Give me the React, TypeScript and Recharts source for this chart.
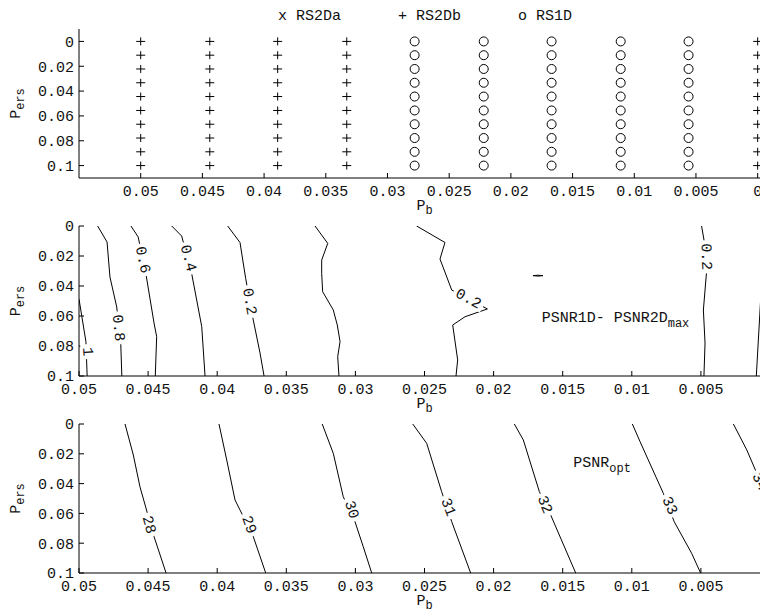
import React from "react";
import { ScatterChart, Scatter, XAxis, YAxis } from "recharts";

type Pair = [number, number];

const FONT = "'Liberation Mono', 'Courier New', monospace";

// ---- top panel: winning scheme on the (Pb, Pers) grid
const PB_GRID = [0.05, 0.0444, 0.0389, 0.0333, 0.0278, 0.0222, 0.0167, 0.0111, 0.0056, 0];
const PERS_GRID = [0, 0.0111, 0.0222, 0.0333, 0.0444, 0.0556, 0.0667, 0.0778, 0.0889, 0.1];
// best scheme per Pb column (same for every Pers row)
const BEST_SCHEME = ["RS2Db", "RS2Db", "RS2Db", "RS2Db", "RS1D", "RS1D", "RS1D", "RS1D", "RS1D", "RS2Db"];
const SCHEMES = [
  { name: "RS2Da", mark: "x" },
  { name: "RS2Db", mark: "+" },
  { name: "RS1D", mark: "o" },
];

const PB_TICKS = [0.05, 0.045, 0.04, 0.035, 0.03, 0.025, 0.02, 0.015, 0.01, 0.005, 0];
const PERS_TICKS = [0, 0.02, 0.04, 0.06, 0.08, 0.1];

// ---- middle panel: PSNR1D - PSNR2Dmax contours, [Pb, Pers]
const DIFF_1: Pair[] = [[0.05, 0.0487], [0.0495, 0.077], [0.04941, 0.1]];
const DIFF_08: Pair[] = [[0.04865, 0], [0.04797, 0.0107], [0.04776, 0.034], [0.04727, 0.054], [0.04698, 0.078], [0.0469, 0.1]];
const DIFF_06: Pair[] = [[0.04624, 0], [0.04572, 0.0073], [0.04517, 0.0313], [0.04457, 0.0647], [0.04438, 0.0738], [0.04448, 0.1]];
const DIFF_04: Pair[] = [[0.04329, 0], [0.04257, 0.0067], [0.04185, 0.0316], [0.04112, 0.067], [0.04088, 0.1]];
const DIFF_02A: Pair[] = [[0.03924, 0], [0.03835, 0.011], [0.03794, 0.0349], [0.03739, 0.0627], [0.0369, 0.0847], [0.03661, 0.1]];
const DIFF_0: Pair[] = [[0.03292, 0], [0.032, 0.0116], [0.03244, 0.0227], [0.03244, 0.0316], [0.03237, 0.0438], [0.0316, 0.056], [0.03131, 0.066], [0.03111, 0.0771], [0.03128, 0.0871], [0.03119, 0.1]];
const DIFF_02B: Pair[] = [[0.02557, 0], [0.02352, 0.011], [0.02388, 0.022], [0.02303, 0.0427], [0.02045, 0.0553], [0.02207, 0.0605], [0.02296, 0.066], [0.0226, 0.0893], [0.02272, 0.1]];
const DIFF_ISLAND: Pair[] = [[0.01715, 0.0331], [0.01679, 0.0328], [0.01643, 0.0331], [0.01679, 0.0334], [0.01715, 0.0331]];
const DIFF_02C: Pair[] = [[0.00495, 0], [0.00475, 0.0107], [0.0046, 0.0316], [0.00482, 0.056], [0.0047, 0.078], [0.00478, 0.1]];
const DIFF_0R: Pair[] = [[0.00022, 0], [0.0005, 0.0193], [0.00074, 0.0593], [0.00099, 0.1]];

const DIFF_LABELS = [
  { text: "1", pb: 0.04944, pers: 0.0838 },
  { text: "0.8", pb: 0.04721, pers: 0.068 },
  { text: "0.6", pb: 0.04545, pers: 0.0227 },
  { text: "0.4", pb: 0.04215, pers: 0.0216 },
  { text: "0.2", pb: 0.03772, pers: 0.0505 },
  { text: "0.2", pb: 0.02185, pers: 0.049 },
  { text: "0.2", pb: 0.00467, pers: 0.0205 },
];
const DIFF_LABEL_TILT = [86, 84, 78, 75, 80, 28, 88];

// ---- bottom panel: PSNRopt contours
const OPT_28: Pair[] = [[0.04667, 0], [0.04607, 0.0208], [0.04559, 0.0421], [0.04457, 0.0756], [0.0437, 0.1]];
const OPT_29: Pair[] = [[0.03987, 0], [0.03931, 0.0242], [0.03871, 0.051], [0.03739, 0.0756], [0.03649, 0.1]];
const OPT_30: Pair[] = [[0.0324, 0], [0.0316, 0.0197], [0.03088, 0.0488], [0.03003, 0.0656], [0.02943, 0.0824], [0.02882, 0.1]];
const OPT_31: Pair[] = [[0.02585, 0], [0.02484, 0.013], [0.02376, 0.0454], [0.02303, 0.0656], [0.02166, 0.1]];
const OPT_32: Pair[] = [[0.0185, 0], [0.01785, 0.0107], [0.01669, 0.0454], [0.01592, 0.06], [0.01406, 0.1]];
const OPT_33: Pair[] = [[0.00996, 0], [0.0094, 0.0119], [0.00772, 0.0465], [0.00693, 0.0656], [0.00567, 0.0868], [0.00502, 0.1]];
const OPT_34: Pair[] = [[0.00265, 0], [0.00168, 0.0174], [0.00023, 0.0488], [0, 0.051]];

const OPT_LABELS = [
  { text: "28", pb: 0.04499, pers: 0.0678 },
  { text: "29", pb: 0.03775, pers: 0.0678 },
  { text: "30", pb: 0.03033, pers: 0.0577 },
  { text: "31", pb: 0.02333, pers: 0.056 },
  { text: "32", pb: 0.01635, pers: 0.0544 },
  { text: "33", pb: 0.00731, pers: 0.055 },
  { text: "34", pb: 0.00079, pers: 0.039 },
];
const OPT_LABEL_TILT = [74, 70, 72, 69, 68, 65, 65];

const DIFF_NOTE = [{ pb: 0.01652, pers: 0.0637, main: "PSNR1D- PSNR2D", sub: "max" }];
const OPT_NOTE = [{ pb: 0.01423, pers: 0.0287, main: "PSNR", sub: "opt" }];

const toPts = (c: Pair[]) => c.map(([pb, pers]) => ({ pb, pers }));

const INK = "#000";
const LINE = { stroke: INK, strokeWidth: 1 };
const TICK = { fill: "#111", fontSize: 15, fontFamily: FONT };
const fmt = (v: number) => String(v);

const none = () => <g />;

const plus = (p: any) => (
  <path d={`M${p.cx - 4.5},${p.cy}h9M${p.cx},${p.cy - 4}v8`} stroke={INK} strokeWidth={1} fill="none" />
);
const ring = (p: any) => <circle cx={p.cx} cy={p.cy} r={4.5} stroke={INK} strokeWidth={1} fill="none" />;

const contourLabel = (p: any) => {
  const { cx, cy, payload } = p;
  const w = payload.text.length * 9 + 6;
  return (
    <g transform={`translate(${cx},${cy}) rotate(${payload.tilt})`}>
      <rect x={-w / 2} y={-6} width={w} height={12} fill="#fff" />
      <text x={0} y={0} textAnchor="middle" dominantBaseline="central" fontFamily={FONT} fontSize={15} fill="#111">
        {payload.text}
      </text>
    </g>
  );
};

const note = (p: any) => (
  <text x={p.cx} y={p.cy} fontFamily={FONT} fontSize={15} fill="#111">
    {p.payload.main}
    <tspan dy={5} fontSize={12}>{p.payload.sub}</tspan>
  </text>
);

const xLabel = (p: any) => {
  const vb = p.viewBox || { x: 0, y: 0, width: 0 };
  return (
    <text x={vb.x + vb.width / 2} y={vb.y + 32} textAnchor="middle" fontFamily={FONT} fontSize={15} fill="#111">
      P<tspan dy={4} fontSize={12}>b</tspan>
    </text>
  );
};

const yLabel = (p: any) => {
  const vb = p.viewBox || { x: 0, y: 0, height: 0 };
  const cx = vb.x + 12;
  const cy = vb.y + vb.height / 2;
  return (
    <text transform={`translate(${cx},${cy}) rotate(-90)`} textAnchor="middle" fontFamily={FONT} fontSize={15} fill="#111">
      P<tspan dy={4} fontSize={12}>ers</tspan>
    </text>
  );
};

type PanelProps = {
  top: number;
  height: number;
  marginTop: number;
  xDomain: [number, number];
  yDomain: [number, number];
  children: React.ReactNode;
};

function Panel({ top, height, marginTop, xDomain, yDomain, children }: PanelProps) {
  return (
    <div style={{ position: "absolute", left: 0, top }}>
      <ScatterChart width={780} height={height} margin={{ top: marginTop, right: 8, bottom: 0, left: 0 }}>
        <XAxis
          type="number"
          dataKey="pb"
          domain={xDomain}
          reversed
          allowDataOverflow
          ticks={PB_TICKS}
          interval={0}
          height={40}
          tickSize={-5}
          tickMargin={12}
          tick={TICK}
          tickFormatter={fmt}
          axisLine={LINE}
          tickLine={LINE}
          label={xLabel}
        />
        <XAxis
          xAxisId="top"
          orientation="top"
          type="number"
          domain={xDomain}
          reversed
          allowDataOverflow
          ticks={PB_TICKS}
          interval={0}
          height={0}
          tickSize={-5}
          tick={false}
          axisLine={LINE}
          tickLine={LINE}
        />
        <YAxis
          type="number"
          dataKey="pers"
          domain={yDomain}
          reversed
          allowDataOverflow
          ticks={PERS_TICKS}
          interval={0}
          width={71}
          tickSize={-5}
          tickMargin={10}
          tick={TICK}
          tickFormatter={fmt}
          axisLine={LINE}
          tickLine={LINE}
          label={yLabel}
        />
        <YAxis
          yAxisId="right"
          orientation="right"
          type="number"
          domain={yDomain}
          reversed
          allowDataOverflow
          ticks={PERS_TICKS}
          interval={0}
          width={10}
          tickSize={-5}
          tick={false}
          axisLine={LINE}
          tickLine={LINE}
        />
        {children}
      </ScatterChart>
    </div>
  );
}

const contour = (c: Pair[], key: string) => (
  <Scatter key={key} data={toPts(c)} line={LINE} shape={none} isAnimationActive={false} />
);

export default function App() {
  const schemePts = (name: string) =>
    PB_GRID.flatMap((pb, i) => (BEST_SCHEME[i] === name ? PERS_GRID.map((pers) => ({ pb, pers })) : []));
  const diffLabels = DIFF_LABELS.map((l, i) => ({ ...l, tilt: DIFF_LABEL_TILT[i] }));
  const optLabels = OPT_LABELS.map((l, i) => ({ ...l, tilt: OPT_LABEL_TILT[i] }));
  const diffLines = [DIFF_1, DIFF_08, DIFF_06, DIFF_04, DIFF_02A, DIFF_0, DIFF_02B, DIFF_ISLAND, DIFF_02C, DIFF_0R];
  const optLines = [OPT_28, OPT_29, OPT_30, OPT_31, OPT_32, OPT_33, OPT_34];

  return (
    <div style={{ position: "relative", width: 760, height: 602, overflow: "hidden", background: "#fff", fontFamily: FONT }}>
      {/* scheme key above the top panel */}
      <svg width={760} height={24} style={{ position: "absolute", left: 0, top: 0 }}>
        {SCHEMES.map((s, i) => (
          <text key={s.name} x={270 + i * 120} y={12} fontFamily={FONT} fontSize={15} fill="#111" xmlSpace="preserve">
            {`${s.mark} ${s.name}`}
          </text>
        ))}
      </svg>
      <Panel top={0} height={210} marginTop={21} xDomain={[-0.001, 0.055]} yDomain={[-0.01, 0.11]}>
        <Scatter name="RS2Da" data={schemePts("RS2Da")} shape={none} isAnimationActive={false} />
        <Scatter name="RS2Db" data={schemePts("RS2Db")} shape={plus} isAnimationActive={false} />
        <Scatter name="RS1D" data={schemePts("RS1D")} shape={ring} isAnimationActive={false} />
      </Panel>
      <Panel top={210} height={198} marginTop={8} xDomain={[0, 0.05]} yDomain={[0, 0.1]}>
        {diffLines.map((c, i) => contour(c, "d" + i))}
        <Scatter data={diffLabels} shape={contourLabel} isAnimationActive={false} />
        <Scatter data={DIFF_NOTE} shape={note} isAnimationActive={false} />
      </Panel>
      <Panel top={408} height={197} marginTop={8} xDomain={[0, 0.05]} yDomain={[0, 0.1]}>
        {optLines.map((c, i) => contour(c, "o" + i))}
        <Scatter data={optLabels} shape={contourLabel} isAnimationActive={false} />
        <Scatter data={OPT_NOTE} shape={note} isAnimationActive={false} />
      </Panel>
    </div>
  );
}
